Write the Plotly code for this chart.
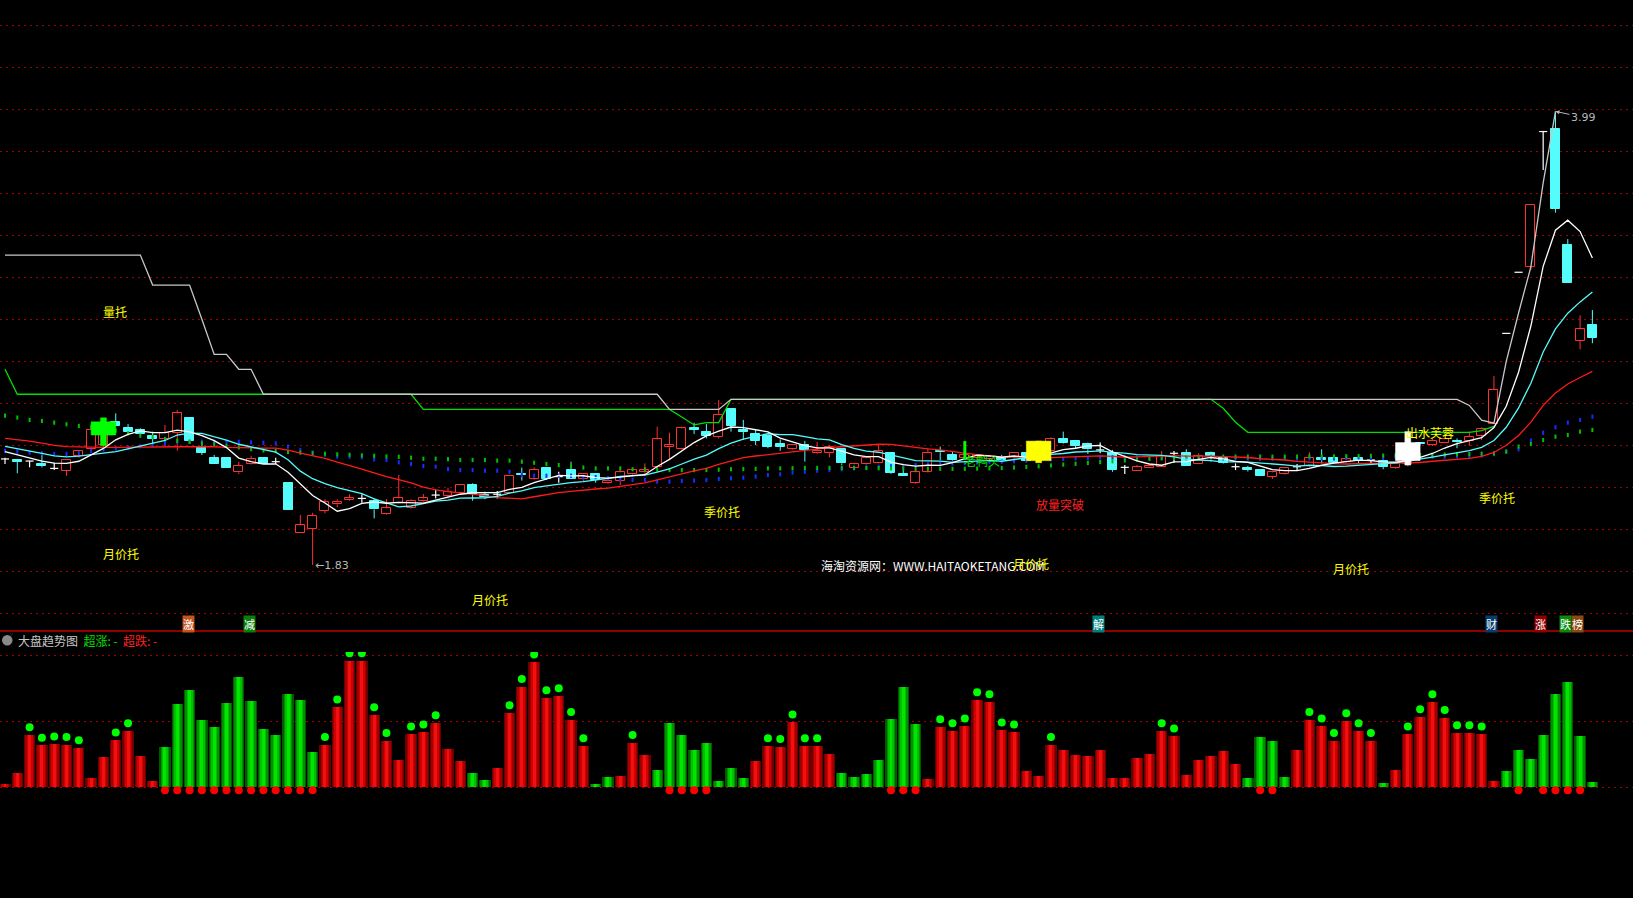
import plotly.graph_objects as go

# ---------------- candle data (price) ----------------
opens = [2.335,2.330,2.325,2.311,2.290,2.279,2.351,2.382,2.400,2.513,
 2.481,2.473,2.444,2.428,2.460,2.528,2.394,2.338,2.338,2.271,
 2.309,2.338,2.322,2.219,1.981,2.000,2.089,2.119,2.140,2.147,
 2.136,2.071,2.127,2.101,2.136,2.163,2.160,2.171,2.211,2.163,
 2.167,2.171,2.265,2.238,2.290,2.251,2.282,2.238,2.262,2.219,
 2.230,2.262,2.271,2.298,2.390,2.381,2.484,2.462,2.441,2.571,
 2.473,2.454,2.444,2.405,2.381,2.400,2.362,2.362,2.382,2.290,
 2.309,2.317,2.365,2.262,2.219,2.273,2.374,2.354,2.338,2.338,
 2.335,2.338,2.343,2.362,2.330,2.374,2.428,2.421,2.406,2.378,
 2.365,2.295,2.279,2.290,2.298,2.362,2.365,2.309,2.362,2.338,
 2.298,2.292,2.282,2.251,2.262,2.298,2.303,2.338,2.338,2.319,
 2.338,2.330,2.327,2.290,2.310,2.413,2.402,2.413,2.421,2.421,
 2.444,2.500,2.933,3.224,3.251,3.894,3.906,3.354,2.898,2.973]
highs = [2.341,2.330,2.327,2.362,2.317,2.330,2.378,2.501,2.500,2.552,
 2.501,2.481,2.465,2.497,2.568,2.528,2.413,2.354,2.338,2.322,
 2.349,2.338,2.341,2.219,2.068,2.079,2.144,2.143,2.167,2.167,
 2.147,2.144,2.259,2.143,2.168,2.190,2.198,2.216,2.219,2.179,
 2.182,2.254,2.294,2.295,2.294,2.274,2.322,2.267,2.262,2.254,
 2.290,2.290,2.314,2.489,2.460,2.489,2.508,2.501,2.616,2.576,
 2.521,2.473,2.449,2.428,2.405,2.421,2.417,2.401,2.386,2.317,
 2.346,2.405,2.365,2.290,2.274,2.386,2.394,2.370,2.359,2.359,
 2.354,2.354,2.365,2.362,2.380,2.438,2.465,2.421,2.413,2.413,
 2.378,2.306,2.306,2.311,2.373,2.373,2.381,2.362,2.370,2.346,
 2.314,2.302,2.282,2.275,2.294,2.311,2.367,2.381,2.346,2.349,
 2.346,2.346,2.354,2.322,2.400,2.413,2.433,2.433,2.433,2.465,
 2.486,2.730,2.933,3.224,3.544,3.894,3.990,3.382,3.019,3.044]
lows = [2.311,2.267,2.295,2.295,2.282,2.255,2.341,2.370,2.390,2.494,
 2.452,2.441,2.409,2.394,2.374,2.409,2.354,2.313,2.294,2.263,
 2.306,2.309,2.311,2.092,1.981,1.830,2.076,2.105,2.136,2.127,
 2.052,2.068,2.124,2.098,2.132,2.147,2.147,2.168,2.136,2.143,
 2.147,2.168,2.232,2.235,2.235,2.222,2.241,2.230,2.222,2.216,
 2.211,2.251,2.259,2.290,2.333,2.378,2.454,2.433,2.433,2.465,
 2.425,2.401,2.386,2.374,2.378,2.322,2.359,2.343,2.306,2.286,
 2.306,2.314,2.263,2.254,2.216,2.270,2.330,2.327,2.330,2.330,
 2.330,2.322,2.314,2.322,2.320,2.370,2.406,2.386,2.359,2.362,
 2.274,2.263,2.279,2.290,2.298,2.317,2.301,2.309,2.322,2.311,
 2.282,2.275,2.255,2.240,2.259,2.282,2.298,2.314,2.314,2.317,
 2.314,2.314,2.286,2.287,2.300,2.400,2.397,2.410,2.386,2.397,
 2.425,2.500,2.933,3.224,3.235,3.711,3.508,3.175,2.857,2.886]
closes = [2.335,2.322,2.325,2.301,2.290,2.330,2.373,2.473,2.460,2.494,
 2.462,2.454,2.432,2.460,2.552,2.421,2.365,2.313,2.294,2.301,
 2.336,2.309,2.322,2.092,2.019,2.063,2.128,2.128,2.151,2.147,
 2.095,2.100,2.147,2.136,2.147,2.163,2.179,2.211,2.168,2.152,
 2.167,2.254,2.257,2.282,2.240,2.251,2.241,2.262,2.235,2.230,
 2.271,2.282,2.282,2.428,2.400,2.481,2.473,2.444,2.544,2.494,
 2.465,2.422,2.394,2.394,2.401,2.378,2.374,2.394,2.314,2.309,
 2.338,2.373,2.267,2.254,2.271,2.362,2.367,2.330,2.354,2.354,
 2.346,2.330,2.362,2.327,2.370,2.428,2.409,2.397,2.381,2.378,
 2.282,2.295,2.295,2.303,2.349,2.362,2.301,2.349,2.351,2.314,
 2.298,2.282,2.255,2.271,2.290,2.298,2.338,2.330,2.317,2.333,
 2.327,2.330,2.298,2.311,2.370,2.405,2.421,2.428,2.414,2.441,
 2.478,2.663,2.933,3.224,3.544,3.894,3.525,3.175,2.952,2.913]

# ---------------- moving average lines ----------------
ma5 = [2.370,2.355,2.340,2.325,2.315,2.314,2.324,2.353,2.385,2.426,
 2.452,2.469,2.460,2.460,2.472,2.464,2.446,2.422,2.389,2.339,
 2.322,2.311,2.312,2.272,2.216,2.161,2.125,2.086,2.098,2.123,
 2.130,2.124,2.128,2.125,2.125,2.139,2.154,2.167,2.174,2.175,
 2.175,2.190,2.200,2.222,2.240,2.257,2.254,2.255,2.246,2.244,
 2.248,2.256,2.260,2.299,2.333,2.375,2.413,2.445,2.468,2.487,
 2.484,2.474,2.464,2.434,2.415,2.398,2.388,2.388,2.372,2.354,
 2.346,2.346,2.320,2.308,2.301,2.305,2.304,2.317,2.337,2.353,
 2.350,2.343,2.349,2.344,2.347,2.363,2.379,2.386,2.397,2.399,
 2.369,2.347,2.326,2.311,2.305,2.321,2.322,2.333,2.342,2.335,
 2.323,2.319,2.300,2.284,2.279,2.279,2.290,2.305,2.315,2.323,
 2.329,2.327,2.321,2.320,2.327,2.343,2.361,2.387,2.408,2.422,
 2.436,2.485,2.586,2.748,2.968,3.252,3.424,3.472,3.418,3.292]
ma10 = [2.395,2.385,2.375,2.362,2.350,2.345,2.348,2.355,2.362,2.370,
 2.383,2.396,2.407,2.423,2.449,2.458,2.457,2.441,2.425,2.405,
 2.393,2.378,2.367,2.331,2.277,2.241,2.218,2.199,2.185,2.170,
 2.145,2.125,2.107,2.111,2.124,2.134,2.139,2.148,2.149,2.150,
 2.157,2.172,2.183,2.198,2.207,2.216,2.222,2.227,2.234,2.242,
 2.252,2.255,2.258,2.272,2.288,2.311,2.334,2.353,2.384,2.410,
 2.429,2.443,2.455,2.451,2.451,2.441,2.431,2.426,2.403,2.385,
 2.372,2.367,2.354,2.340,2.327,2.326,2.325,2.319,2.323,2.327,
 2.328,2.324,2.333,2.340,2.350,2.357,2.361,2.368,2.370,2.373,
 2.366,2.363,2.356,2.354,2.352,2.345,2.334,2.330,2.327,2.320,
 2.322,2.320,2.316,2.313,2.307,2.301,2.305,2.303,2.299,2.301,
 2.304,2.309,2.313,2.317,2.325,2.336,2.344,2.354,2.364,2.375,
 2.390,2.423,2.486,2.578,2.695,2.844,2.954,3.029,3.083,3.130]
ma20 = [2.433,2.428,2.420,2.410,2.400,2.394,2.392,2.391,2.390,2.390,
 2.390,2.390,2.391,2.392,2.393,2.394,2.394,2.393,2.390,2.388,
 2.388,2.387,2.387,2.377,2.363,2.350,2.338,2.320,2.305,2.287,
 2.269,2.251,2.237,2.221,2.201,2.188,2.179,2.173,2.167,2.160,
 2.151,2.148,2.145,2.155,2.166,2.175,2.181,2.188,2.192,2.196,
 2.205,2.214,2.221,2.235,2.248,2.264,2.278,2.290,2.309,2.326,
 2.341,2.349,2.356,2.362,2.370,2.376,2.383,2.389,2.393,2.397,
 2.401,2.405,2.404,2.396,2.389,2.383,2.378,2.372,2.363,2.356,
 2.350,2.345,2.344,2.340,2.339,2.341,2.343,2.343,2.346,2.350,
 2.347,2.343,2.345,2.347,2.351,2.351,2.348,2.349,2.348,2.346,
 2.344,2.342,2.336,2.334,2.330,2.323,2.319,2.316,2.313,2.311,
 2.313,2.315,2.315,2.315,2.316,2.318,2.324,2.328,2.332,2.338,
 2.347,2.366,2.400,2.447,2.510,2.590,2.649,2.692,2.723,2.752]

# step lines (pressure / support)
gray_line = ([3.306]*12 + [3.163]*4 + [3.0] + [2.833]*2 + [2.762]*2 + [2.643]*33 +
             [2.571]*5 + [2.619]*60 + [2.59, 2.52, 2.505, 2.80, 3.03, 3.25, 3.65, 3.99])
green_line = ([2.762] + [2.643]*33 + [2.571]*21 + [2.535, 2.497, 2.508, 2.508] +
              [2.619]*40 + [2.576, 2.51] + [2.462]*19 + [2.47, 2.49])

# dotted averages
green_dots = [2.541,2.532,2.521,2.516,2.508,2.500,2.492,2.485,2.478,2.470,
 2.457,2.446,2.440,2.430,2.421,2.416,2.409,2.405,2.397,2.390,
 2.382,2.376,2.373,2.368,2.365,2.362,2.360,2.357,2.355,2.352,
 2.350,2.347,2.345,2.341,2.336,2.336,2.334,2.330,2.330,2.330,
 2.327,2.327,2.322,2.317,2.311,2.306,2.298,2.294,2.290,2.290,
 2.290,2.286,2.286,2.284,2.282,2.282,2.282,2.283,2.284,2.286,
 2.287,2.288,2.290,2.290,2.291,2.292,2.292,2.293,2.293,2.293,
 2.292,2.291,2.290,2.289,2.288,2.288,2.288,2.288,2.288,2.289,
 2.290,2.292,2.294,2.297,2.300,2.304,2.308,2.312,2.316,2.320,
 2.324,2.328,2.332,2.335,2.338,2.340,2.342,2.344,2.345,2.346,
 2.346,2.346,2.346,2.346,2.346,2.346,2.347,2.347,2.347,2.348,
 2.349,2.350,2.351,2.352,2.353,2.354,2.355,2.356,2.357,2.358,
 2.360,2.362,2.370,2.394,2.406,2.425,2.441,2.449,2.465,2.473]
blue_dots = [2.373,2.370,2.365,2.362,2.359,2.359,2.362,2.373,2.380,2.386,
 2.390,2.395,2.401,2.410,2.417,2.417,2.417,2.417,2.417,2.417,
 2.414,2.412,2.409,2.394,2.378,2.365,2.355,2.346,2.346,2.343,
 2.333,2.330,2.319,2.311,2.301,2.298,2.287,2.282,2.282,2.279,
 2.279,2.274,2.259,2.255,2.255,2.255,2.255,2.248,2.248,2.243,
 2.238,2.235,2.235,2.227,2.227,2.230,2.232,2.235,2.240,2.243,
 2.246,2.251,2.259,2.262,2.270,2.274,2.279,2.282,2.286,2.290,
 2.294,2.298,2.300,2.303,2.306,2.309,2.311,2.314,2.316,2.318,
 2.320,2.322,2.325,2.327,2.330,2.333,2.335,2.338,2.340,2.342,
 2.343,2.343,2.342,2.341,2.340,2.340,2.339,2.338,2.338,2.338,
 2.337,2.337,2.336,2.336,2.336,2.336,2.337,2.337,2.338,2.338,
 2.339,2.340,2.341,2.342,2.343,2.344,2.345,2.346,2.348,2.350,
 2.352,2.358,2.370,2.381,2.422,2.460,2.486,2.508,2.521,2.536]

# signal blocks: candle index, body low/high, stem low/high
signal_index = [8, 84, 114]
signal_body_low = [2.449, 2.327, 2.327]
signal_body_high = [2.512, 2.420, 2.413]
signal_stem_low = [2.398, 2.317, 2.306]
signal_stem_high = [2.531, 2.420, 2.465]
duck_index, duck_low, duck_high = 78, 2.330, 2.420

# text labels on the price pane
label_text = ['量托', '月价托', '月价托', '季价托', '放量突破', '月价托', '季价托', '出水芙蓉', '老鸭头']
label_x = [8.9, 9.4, 39.4, 58.3, 85.7, 109.4, 121.25, 115.8, 79.4]
label_y = [3.035, 1.887, 1.668, 2.085, 2.12, 1.813, 2.151, 2.463, 2.328]
url_text = '海淘资源网：WWW.HAITAOKETANG.COM'
url_x, url_y = 66.15, 1.830
overlay_label = ('月价托', 83.4, 1.837)
low_label = (25, 1.83)
high_label = (126, 3.99)

# tags above the lower pane
tag_text = ['激', '减', '解', '财', '涨', '跌', '榜']
tag_x = [14.9, 19.9, 88.9, 120.8, 124.8, 126.8, 127.8]

# ---------------- lower pane: 大盘趋势图 ----------------
trend_values = [5,21,79,63,65,64,59,14,45,71,
 85,47,9,61,126,147,102,91,127,167,
 130,88,79,141,132,53,64,121,191,191,
 109,70,41,80,83,97,58,39,21,11,
 29,112,152,189,135,138,102,62,5,15,
 17,67,48,26,97,79,56,67,9,29,
 14,39,62,61,98,62,62,50,21,15,
 20,41,103,152,95,12,91,85,92,132,
 129,86,83,24,17,64,56,48,47,56,
 14,14,44,50,85,77,18,41,47,55,
 35,14,76,70,15,56,102,92,70,100,
 85,70,6,26,80,106,129,105,82,82,
 80,9,24,56,42,79,141,159,77,8]
trend_up = ([1]*13 + [0]*13 + [1]*12 + [0]*2 + [1]*8 + [0]*2 + [1]*3 + [0]*8 +
            [1]*7 + [0]*7 + [1]*26 + [0]*4 + [1]*7 + [0] + [1]*9 + [0]*8)
dots_above = [2,3,4,5,6,9,10,26,27,28,29,30,31,33,34,35,41,42,43,44,45,46,47,51,
              62,63,64,65,66,76,77,78,79,80,81,82,85,94,95,106,107,108,109,110,111,
              114,115,116,117,118,119,120]
dots_below = list(range(13, 26)) + [54,55,56,57,72,73,74,102,103,123,125,126,127,128]

# ---------------- styling ----------------
W, H = 1633, 898
RED = '#ff3030'
CYAN = '#54fcfc'
WHITE = '#ffffff'
GRID = '#a00000'
CJK = 'Noto Sans CJK SC, sans-serif'
n = len(closes)
idx = list(range(n))

fig = go.Figure()

# candle bodies (bars) -------------------------------------------------
red_i = [i for i in idx if closes[i] > opens[i]]
cyan_i = [i for i in idx if closes[i] < opens[i]]
doji_i = [i for i in idx if closes[i] == opens[i]]
BODY_W = 0.73

fig.add_trace(go.Bar(x=red_i, base=[opens[i] for i in red_i],
                     y=[closes[i] - opens[i] for i in red_i], width=BODY_W,
                     marker=dict(color='black', line=dict(color=RED, width=1)),
                     xaxis='x', yaxis='y', hoverinfo='skip'))
fig.add_trace(go.Bar(x=cyan_i, base=[closes[i] for i in cyan_i],
                     y=[opens[i] - closes[i] for i in cyan_i], width=BODY_W,
                     marker=dict(color=CYAN, line=dict(color=CYAN, width=1)),
                     xaxis='x', yaxis='y', hoverinfo='skip'))


def wick_xy(sel):
    xs, ys = [], []
    for i in sel:
        lo, hi = min(opens[i], closes[i]), max(opens[i], closes[i])
        if lows[i] < lo:
            xs += [i, i, None]; ys += [lows[i], lo, None]
        if highs[i] > hi:
            xs += [i, i, None]; ys += [hi, highs[i], None]
    return xs, ys


for sel, col in ((red_i, RED), (cyan_i, CYAN)):
    wx, wy = wick_xy(sel)
    fig.add_trace(go.Scatter(x=wx, y=wy, mode='lines', line=dict(color=col, width=1),
                             hoverinfo='skip', xaxis='x', yaxis='y'))

# doji / one-price candles in white
dx, dy = [], []
for i in doji_i:
    dx += [i - 0.33, i + 0.33, None]; dy += [opens[i], opens[i], None]
    if highs[i] > lows[i]:
        dx += [i, i, None]; dy += [lows[i], highs[i], None]
fig.add_trace(go.Scatter(x=dx, y=dy, mode='lines', line=dict(color=WHITE, width=1.2),
                         hoverinfo='skip', xaxis='x', yaxis='y'))

# dotted averages
fig.add_trace(go.Scatter(x=idx, y=blue_dots, mode='markers',
                         marker=dict(symbol='line-ns', size=3, line=dict(color='#1a2cff', width=2)),
                         hoverinfo='skip', xaxis='x', yaxis='y'))
fig.add_trace(go.Scatter(x=idx, y=green_dots, mode='markers',
                         marker=dict(symbol='line-ns', size=3, line=dict(color='#00c000', width=2)),
                         hoverinfo='skip', xaxis='x', yaxis='y'))

# step lines
fig.add_trace(go.Scatter(x=list(range(len(green_line))), y=green_line, mode='lines',
                         line=dict(color='#00e000', width=1.3), hoverinfo='skip', xaxis='x', yaxis='y'))
fig.add_trace(go.Scatter(x=list(range(len(gray_line))), y=gray_line, mode='lines',
                         line=dict(color='#c8c8c8', width=1.3), hoverinfo='skip', xaxis='x', yaxis='y'))

# moving averages
for ser, col in ((ma20, '#ff1a1a'), (ma10, CYAN), (ma5, WHITE)):
    fig.add_trace(go.Scatter(x=idx, y=ser, mode='lines', line=dict(color=col, width=1.3),
                             hoverinfo='skip', xaxis='x', yaxis='y'))

# signal blocks (drawn on top)
sig_colors = ['#00ff00', '#ffff00', '#ffffff']
for k, xi in enumerate(signal_index):
    c = sig_colors[k]
    fig.add_trace(go.Scatter(x=[xi - 1.0, xi + 1.0, xi + 1.0, xi - 1.0, xi - 1.0],
                             y=[signal_body_low[k], signal_body_low[k], signal_body_high[k],
                                signal_body_high[k], signal_body_low[k]],
                             mode='lines', fill='toself', fillcolor=c, line=dict(color=c, width=0.5),
                             hoverinfo='skip', xaxis='x', yaxis='y'))
    fig.add_trace(go.Scatter(x=[xi - 0.24, xi + 0.24, xi + 0.24, xi - 0.24, xi - 0.24],
                             y=[signal_stem_low[k], signal_stem_low[k], signal_stem_high[k],
                                signal_stem_high[k], signal_stem_low[k]],
                             mode='lines', fill='toself', fillcolor=c, line=dict(color=c, width=0.5),
                             hoverinfo='skip', xaxis='x', yaxis='y'))
fig.add_trace(go.Scatter(x=[duck_index, duck_index], y=[duck_low, duck_high], mode='lines',
                         line=dict(color='#00ff00', width=3), hoverinfo='skip', xaxis='x', yaxis='y'))

# lower pane: gradient bars ---------------------------------------------
layers = [(0.92, '#6a0000', '#005a00'), (0.72, '#a00000', '#009000'),
          (0.48, '#d00000', '#00c000'), (0.24, '#f01010', '#00e600')]
for w, rc, gc in layers:
    fig.add_trace(go.Bar(x=idx, y=[v if u else None for v, u in zip(trend_values, trend_up)],
                         width=w, marker=dict(color=rc, line=dict(width=0)),
                         xaxis='x', yaxis='y2', hoverinfo='skip'))
    fig.add_trace(go.Bar(x=idx, y=[None if u else v for v, u in zip(trend_values, trend_up)],
                         width=w, marker=dict(color=gc, line=dict(width=0)),
                         xaxis='x', yaxis='y2', hoverinfo='skip'))

fig.add_trace(go.Scatter(x=dots_above, y=[trend_values[i] + 11.7 for i in dots_above], mode='markers',
                         marker=dict(color='#00ff00', size=8, line=dict(width=0)),
                         hoverinfo='skip', xaxis='x', yaxis='y2'))
fig.add_trace(go.Scatter(x=dots_below, y=[-5] * len(dots_below), mode='markers',
                         marker=dict(color='#ff0000', size=8, line=dict(width=0)),
                         hoverinfo='skip', xaxis='x', yaxis='y2'))

# ---------------- annotations ----------------
ann = []
for t, x, y in zip(label_text, label_x, label_y):
    col = '#ffff00'
    if t == '放量突破':
        col = '#ff2020'
    elif t == '老鸭头':
        col = '#00e000'
    ann.append(dict(x=x, y=y, xref='x', yref='y', text=t, showarrow=False,
                    font=dict(family=CJK, size=12, color=col)))
ann.append(dict(x=url_x, y=url_y, xref='x', yref='y', text=url_text, showarrow=False, xanchor='left',
                font=dict(family=CJK, size=12, color='#ffffff')))
ann.append(dict(x=overlay_label[1], y=overlay_label[2], xref='x', yref='y', text=overlay_label[0],
                showarrow=False, font=dict(family=CJK, size=12, color='#ffff00')))
ann.append(dict(x=low_label[0], y=low_label[1], xref='x', yref='y', text='←' + '1.83', showarrow=False,
                xanchor='left', font=dict(family='DejaVu Sans, sans-serif', size=11, color='#b8b8b8')))
ann.append(dict(x=high_label[0], y=high_label[1], xref='x', yref='y', text='3.99', showarrow=True,
                ax=28, ay=6, arrowhead=2, arrowsize=0.8, arrowwidth=1, arrowcolor='#b8b8b8', standoff=0,
                font=dict(family='DejaVu Sans, sans-serif', size=11, color='#b8b8b8')))

tag_bg = ['#c4541c', '#0a7d0a', '#00807f', '#063c6e', '#900000', '#0a8a0a', '#8b4a14']
tag_y = 1.551
for t, x, bg in zip(tag_text, tag_x, tag_bg):
    ann.append(dict(x=x, y=tag_y, xref='x', yref='y', text=t, showarrow=False, bgcolor=bg, borderpad=0,
                    font=dict(family=CJK, size=11, color='#ffffff')))

ann.append(dict(x=16 / W, y=1 - 640 / H, xref='paper', yref='paper', xanchor='left', yanchor='middle',
                showarrow=False,
                text=('<span style="color:#c8c8c8">大盘趋势图</span>  '
                      '<span style="color:#00e000">超涨: -</span>  '
                      '<span style="color:#ff2020">超跌: -</span>'),
                font=dict(family=CJK, size=12)))
ann.append(dict(x=7.3 / W, y=1 - 640 / H, xref='paper', yref='paper', showarrow=False, text='v',
                font=dict(family='DejaVu Sans', size=8, color='#202020')))

shapes = [
    dict(type='line', xref='paper', yref='paper', x0=0, x1=1, y0=1 - 631 / H, y1=1 - 631 / H,
         line=dict(color='#c00000', width=1.5)),
    dict(type='circle', xref='paper', yref='paper', x0=2 / W, x1=12.5 / W, y0=1 - 645.5 / H, y1=1 - 635 / H,
         fillcolor='#8a8a8a', line=dict(width=0)),
]

price_grid = [round(1.6 + 0.2 * k, 1) for k in range(15)]

fig.update_layout(
    width=W, height=H, margin=dict(l=0, r=0, t=0, b=0, pad=0),
    paper_bgcolor='black', plot_bgcolor='black', showlegend=False,
    barmode='overlay', bargap=0, font=dict(family=CJK),
    xaxis=dict(range=[-0.406, 132.30], showgrid=False, zeroline=False, showticklabels=False,
               showline=False, ticks='', fixedrange=True),
    yaxis=dict(domain=[1 - 631 / H, 1], range=[1.5157, 4.5205], tickmode='array', tickvals=price_grid,
               showgrid=True, gridcolor=GRID, griddash='2px,4px', gridwidth=1, zeroline=False,
               showticklabels=False, showline=False, ticks=''),
    yaxis2=dict(domain=[0, (H - 652) / H], range=[-168.18, 204.55], anchor='x', tickmode='array',
                tickvals=[0, 100, 200], showgrid=True, gridcolor=GRID, griddash='2px,4px', gridwidth=1,
                zeroline=False, showticklabels=False, showline=False, ticks=''),
    annotations=ann, shapes=shapes,
)

fig.write_html("out.html", config={'displayModeBar': False},
               post_script="document.body.style.margin='0';document.body.style.overflow='hidden';")
